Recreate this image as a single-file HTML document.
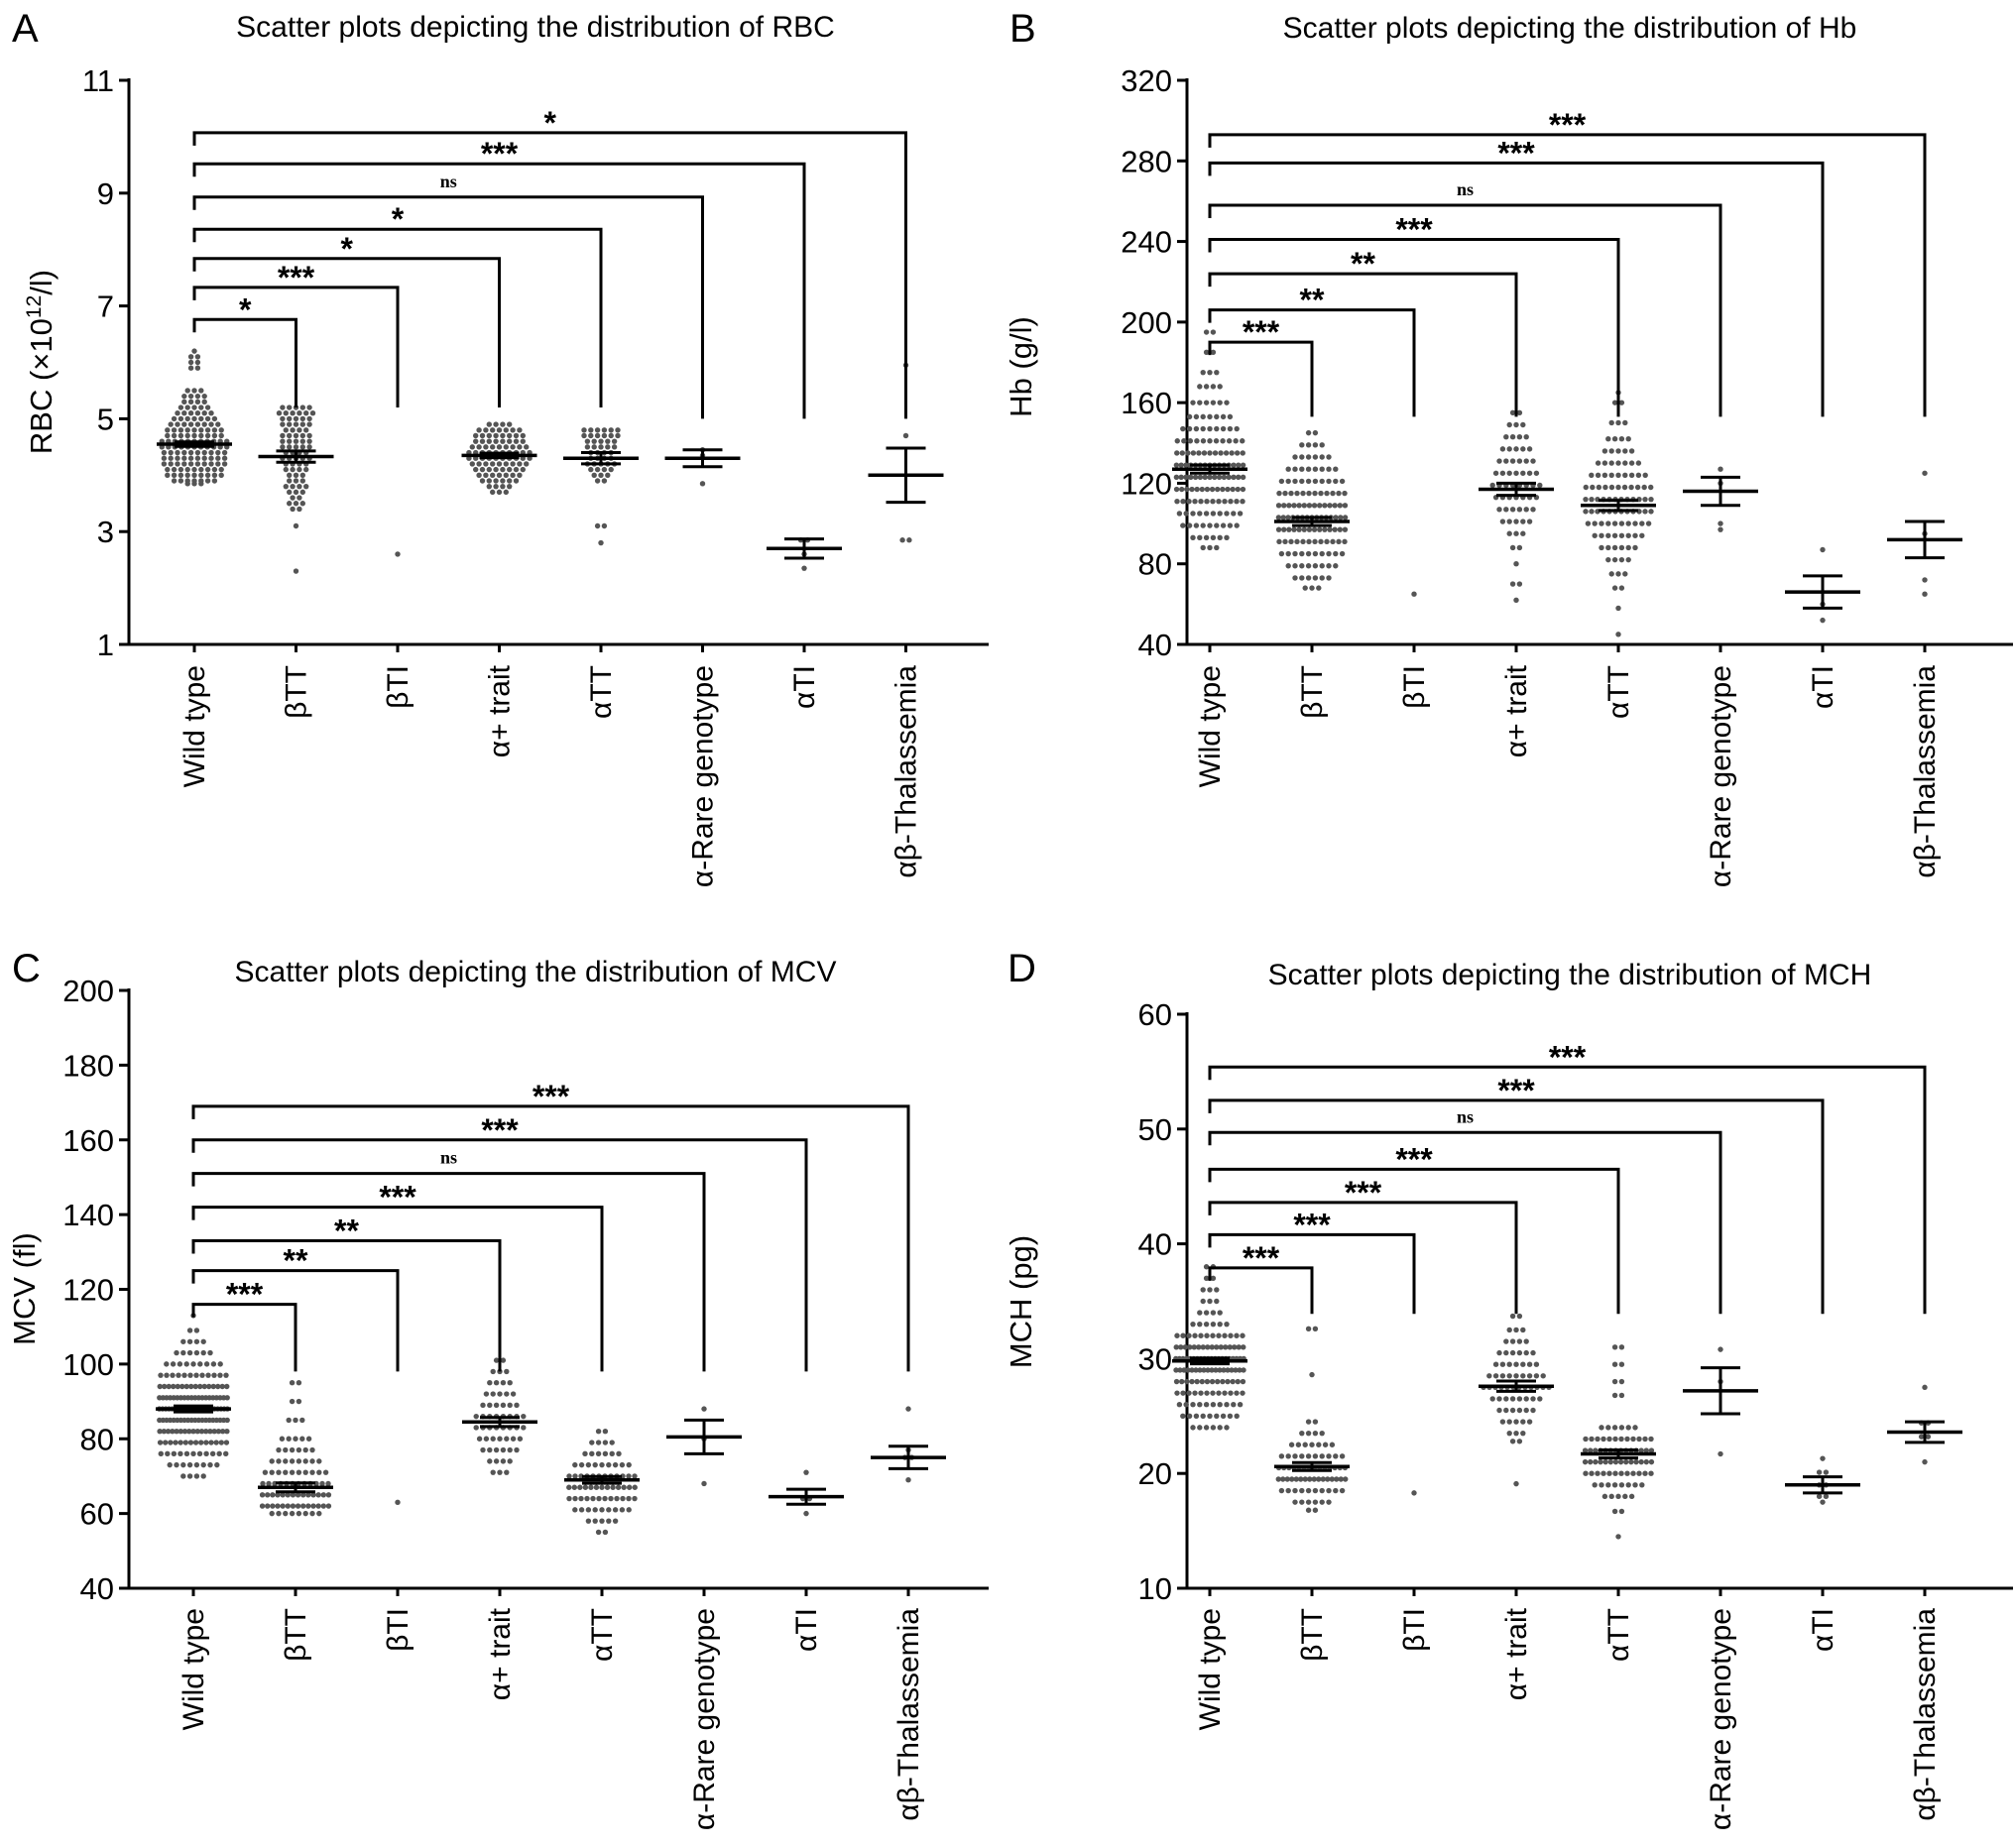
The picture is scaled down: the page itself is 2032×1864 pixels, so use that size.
<!DOCTYPE html>
<html><head><meta charset="utf-8">
<style>
html,body{margin:0;padding:0;background:#fff;}
svg{display:block;font-family:"Liberation Sans",sans-serif;}
</style></head>
<body>
<svg id="fig" width="2032" height="1864" viewBox="0 0 2032 1864" xmlns="http://www.w3.org/2000/svg"></svg>
<script>
const categories = ['Wild type','βTT','βTI','α+ trait','αTT','α-Rare genotype','αTI','αβ-Thalassemia'];

const rbcPoints = [
 [[6.2,1],[6.1,2],[6.0,2],[5.9,2],[5.5,3],[5.4,4],[5.3,4],[5.2,5],[5.1,6],[5.0,7],[4.9,8],[4.8,9],[4.7,9],[4.6,11],[4.5,11],[4.4,10],[4.3,10],[4.2,10],[4.1,9],[4.0,9],[3.9,7],[3.85,3]],
 [[5.2,5],[5.1,6],[5.0,5],[4.9,5],[4.8,4],[4.7,5],[4.6,5],[4.5,5],[4.4,4],[4.3,5],[4.2,4],[4.1,4],[4.0,3],[3.9,3],[3.8,4],[3.7,3],[3.6,2],[3.5,3],[3.4,2],[3.1,1],[2.3,1]],
 [[2.6,1]],
 [[4.9,4],[4.8,7],[4.7,8],[4.6,8],[4.5,9],[4.4,10],[4.3,10],[4.2,9],[4.1,8],[4.0,7],[3.9,6],[3.8,4],[3.7,3]],
 [[4.8,6],[4.7,6],[4.6,5],[4.5,5],[4.4,4],[4.3,4],[4.2,5],[4.1,4],[4.0,3],[3.9,2],[3.1,2],[2.8,1]],
 [[4.45,1],[4.35,1],[3.85,1]],
 [[2.85,2],[2.6,1],[2.35,1]],
 [[5.95,1],[4.7,1],[2.85,2]]
];
const rbcMeans = [4.55,4.33,null,4.35,4.3,4.3,2.7,4.0];
const rbcSem = [0.04,0.1,0,0.04,0.1,0.15,0.17,0.48];
const rbcTicks = [1,3,5,7,9,11];
const rbcBrH = [6.76,7.33,7.84,8.36,8.93,9.52,10.07];
const rbcBrEnd = [5.2,5.2,5.2,5.2,5.0,5.0,5.0];
const rbcBrLab = ['*','***','*','*','ns','***','*'];

const hbPoints = [
 [[195,2],[185,2],[175,3],[168,4],[160,6],[153,7],[147,9],[141,11],[135,13],[129,15],[123,15],[117,14],[111,12],[105,10],[99,9],[93,6],[88,3]],
 [[145,2],[139,4],[133,6],[127,8],[121,10],[115,12],[109,14],[103,15],[97,14],[91,12],[85,10],[79,8],[73,6],[68,3]],
 [[65,1]],
 [[155,2],[149,3],[143,4],[137,5],[131,6],[125,7],[119,8],[113,7],[107,6],[101,5],[95,3],[88,2],[80,1],[70,2],[62,1]],
 [[165,1],[160,2],[150,3],[142,4],[136,5],[130,7],[124,9],[118,11],[112,12],[106,12],[100,10],[94,8],[88,6],[82,4],[75,3],[68,2],[58,1],[45,1]],
 [[127,1],[120,1],[100,1],[97,1]],
 [[87,1],[60,1],[52,1]],
 [[125,1],[95,1],[72,1],[65,1]]
];
const hbMeans = [127,101,null,117,109,116,66,92];
const hbSem = [2,2,0,3,2.5,7,8,9];
const hbTicks = [40,80,120,160,200,240,280,320];
const hbBrH = [190,206,224,241,258,279,293];
const hbBrEnd = [153,153,153,153,153,153,153];
const hbBrLab = ['***','**','**','***','ns','***','***'];

const mcvPoints = [
 [[113,1],[109,2],[106,4],[103,6],[100,9],[97,12],[94,16],[91,20],[88,22],[85,20],[82,17],[79,14],[76,11],[73,8],[70,4]],
 [[95,2],[90,2],[85,3],[80,5],[77,6],[74,8],[71,10],[68,12],[65,14],[62,14],[60,8]],
 [[63,1]],
 [[101,2],[98,3],[95,4],[92,5],[89,6],[86,8],[83,8],[80,7],[77,6],[74,4],[71,3]],
 [[82,2],[79,4],[76,6],[73,9],[70,12],[67,13],[64,12],[61,9],[58,5],[55,2]],
 [[88,1],[80,1],[68,1]],
 [[71,1],[64,2],[60,1]],
 [[88,1],[77,1],[75,2],[69,1]]
];
const mcvMeans = [88,67,null,84.5,69,80.5,64.5,75];
const mcvSem = [0.8,1.2,0,1.2,0.9,4.5,2,3];
const mcvTicks = [40,60,80,100,120,140,160,180,200];
const mcvBrH = [116,125,133,142,151,160,169];
const mcvBrEnd = [98,98,98,98,98,98,98];
const mcvBrLab = ['***','**','**','***','ns','***','***'];

const mchPoints = [
 [[38,2],[37,2],[36,3],[35,3],[34,4],[33,6],[32,12],[31,16],[30,20],[29,18],[28,14],[27,12],[26,10],[25,9],[24,6]],
 [[32.6,2],[28.6,1],[24.5,2],[23.5,4],[22.5,7],[21.5,10],[20.5,14],[19.5,16],[18.5,10],[17.5,6],[16.8,2]],
 [[18.3,1]],
 [[33.7,2],[32.5,3],[31.5,4],[30.5,6],[29.5,7],[28.5,9],[27.5,12],[26.5,8],[25.5,6],[24.5,5],[23.5,3],[22.8,2],[19.1,1]],
 [[31,2],[29.5,2],[28,2],[26.8,2],[24,6],[23,12],[22,14],[21,14],[20,12],[19,8],[18,5],[16.7,2],[14.5,1]],
 [[30.8,1],[28,1],[21.7,1]],
 [[21.3,1],[20.1,2],[19,2],[18,2],[17.5,1]],
 [[27.5,1],[24.4,2],[23.2,2],[21,1]]
];
const mchMeans = [29.8,20.6,null,27.6,21.7,27.2,19,23.6];
const mchSem = [0.25,0.35,0,0.45,0.35,2,0.7,0.9];
const mchTicks = [10,20,30,40,50,60];
const mchBrH = [37.9,40.8,43.6,46.5,49.7,52.5,55.4];
const mchBrEnd = [33.9,33.9,33.9,33.9,33.9,33.9,33.9];
const mchBrLab = ['***','***','***','***','ns','***','***'];

const NS='http://www.w3.org/2000/svg';
const svg=document.getElementById('fig');
function mk(tag,attrs,parent){const e=document.createElementNS(NS,tag);for(const k in attrs)e.setAttribute(k,attrs[k]);(parent||svg).appendChild(e);return e;}

function panel(o){
  const g=mk('g',{});
  
  
  const y=v=>o.yBot-(v-o.min)/(o.max-o.min)*(o.yBot-o.yTop);
  const x=i=>o.cat0+i*o.dx;
  const L=mk('text',{x:o.letterX,y:o.letterY,'font-size':40},g);L.textContent=o.letter;
  
  
  const T=mk('text',{x:o.titleX,y:o.titleY,'font-size':30,'text-anchor':'middle'},g);T.textContent=o.title;
  
  
  const ya=mk('line',{x1:o.ax,y1:o.yTop-2,x2:o.ax,y2:o.yBot+1.5,stroke:'#000','stroke-width':3},g);
  
  
  const xa=mk('line',{x1:o.ax-1.5,y1:o.yBot,x2:o.xEnd,y2:o.yBot,stroke:'#000','stroke-width':3},g);
  
  
  o.ticks.forEach(t=>{
    mk('line',{x1:o.ax-10,y1:y(t),x2:o.ax,y2:y(t),stroke:'#000','stroke-width':3},g);
    const tl=mk('text',{x:o.ax-15,y:y(t)+11,'font-size':31,'text-anchor':'end'},g);tl.textContent=t;
    
    
  });
  const yt=mk('text',{x:0,y:0,'font-size':31,'text-anchor':'middle',transform:`translate(${o.ytX},${o.ytY}) rotate(-90)`},g);
  yt.innerHTML=o.yTitle;
  
  
  categories.forEach((c,i)=>{
    mk('line',{x1:x(i),y1:o.yBot,x2:x(i),y2:o.yBot+8,stroke:'#000','stroke-width':3},g);
    const cl=mk('text',{x:0,y:0,'font-size':30,'text-anchor':'end',transform:`translate(${x(i)+10},${o.catY}) rotate(-90)`},g);
    cl.textContent=c;
    
    
  });
  o.points.forEach((grp,i)=>{
    grp.forEach(([v,n])=>{
      const sp=Math.min(6.8,72/n);
      for(let k=0;k<n;k++){
        const d=mk('circle',{cx:x(i)+(k-(n-1)/2)*sp,cy:y(v),r:2.7,fill:'#555'},g);
        
        
      }
    });
  });
  o.means.forEach((m,i)=>{
    if(m===null)return;
    const s=o.sem[i];
    const ml=mk('line',{x1:x(i)-38,y1:y(m),x2:x(i)+38,y2:y(m),stroke:'#000','stroke-width':3.5},g);
    
    
    mk('line',{x1:x(i),y1:y(m+s),x2:x(i),y2:y(m-s),stroke:'#000','stroke-width':3},g);
    mk('line',{x1:x(i)-20,y1:y(m+s),x2:x(i)+20,y2:y(m+s),stroke:'#000','stroke-width':3},g);
    mk('line',{x1:x(i)-20,y1:y(m-s),x2:x(i)+20,y2:y(m-s),stroke:'#000','stroke-width':3},g);
  });
  o.brH.forEach((h,j)=>{
    const t=j+1,yy=y(h);
    const p=mk('path',{d:`M${x(0)},${yy+13}V${yy}H${x(t)}V${y(o.brEnd[j])}`,fill:'none',stroke:'#000','stroke-width':3},g);
    
    
    const lab=o.brLab[j];
    const tx=mk('text',{x:(x(0)+x(t))/2,y:yy-(lab==='ns'?10:-1),'text-anchor':'middle','font-size':lab==='ns'?18:32,'font-weight':'bold','font-family':lab==='ns'?'"Liberation Serif",serif':'"Liberation Sans",sans-serif'},g);
    tx.textContent=lab;
    
    
  });
}

panel({id:'rbc',letter:'A',letterX:12,letterY:42,title:'Scatter plots depicting the distribution of RBC',titleX:540,titleY:37,
 ax:130,xEnd:997,yTop:81,yBot:650,min:1,max:11,ticks:rbcTicks,cat0:196,dx:102.5,catY:671,
 ytX:52,ytY:365,yTitle:'RBC (×10<tspan dy="-11" font-size="21">12</tspan><tspan dy="11">/l)</tspan>',
 points:rbcPoints,means:rbcMeans,sem:rbcSem,brH:rbcBrH,brEnd:rbcBrEnd,brLab:rbcBrLab});
panel({id:'hb',letter:'B',letterX:1018,letterY:42,title:'Scatter plots depicting the distribution of Hb',titleX:1583,titleY:38,
 ax:1197,xEnd:2030,yTop:81,yBot:650,min:40,max:320,ticks:hbTicks,cat0:1220,dx:103,catY:671,
 ytX:1040,ytY:370,yTitle:'Hb (g/l)',
 points:hbPoints,means:hbMeans,sem:hbSem,brH:hbBrH,brEnd:hbBrEnd,brLab:hbBrLab});
panel({id:'mcv',letter:'C',letterX:12,letterY:990,title:'Scatter plots depicting the distribution of MCV',titleX:540,titleY:990,
 ax:130,xEnd:997,yTop:999,yBot:1602,min:40,max:200,ticks:mcvTicks,cat0:195,dx:103,catY:1622,
 ytX:35,ytY:1300,yTitle:'MCV (fl)',
 points:mcvPoints,means:mcvMeans,sem:mcvSem,brH:mcvBrH,brEnd:mcvBrEnd,brLab:mcvBrLab});
panel({id:'mch',letter:'D',letterX:1016,letterY:990,title:'Scatter plots depicting the distribution of MCH',titleX:1583,titleY:993,
 ax:1197,xEnd:2030,yTop:1023,yBot:1602,min:10,max:60,ticks:mchTicks,cat0:1220,dx:103,catY:1622,
 ytX:1040,ytY:1313,yTitle:'MCH (pg)',
 points:mchPoints,means:mchMeans,sem:mchSem,brH:mchBrH,brEnd:mchBrEnd,brLab:mchBrLab});
</script>
</body></html>
